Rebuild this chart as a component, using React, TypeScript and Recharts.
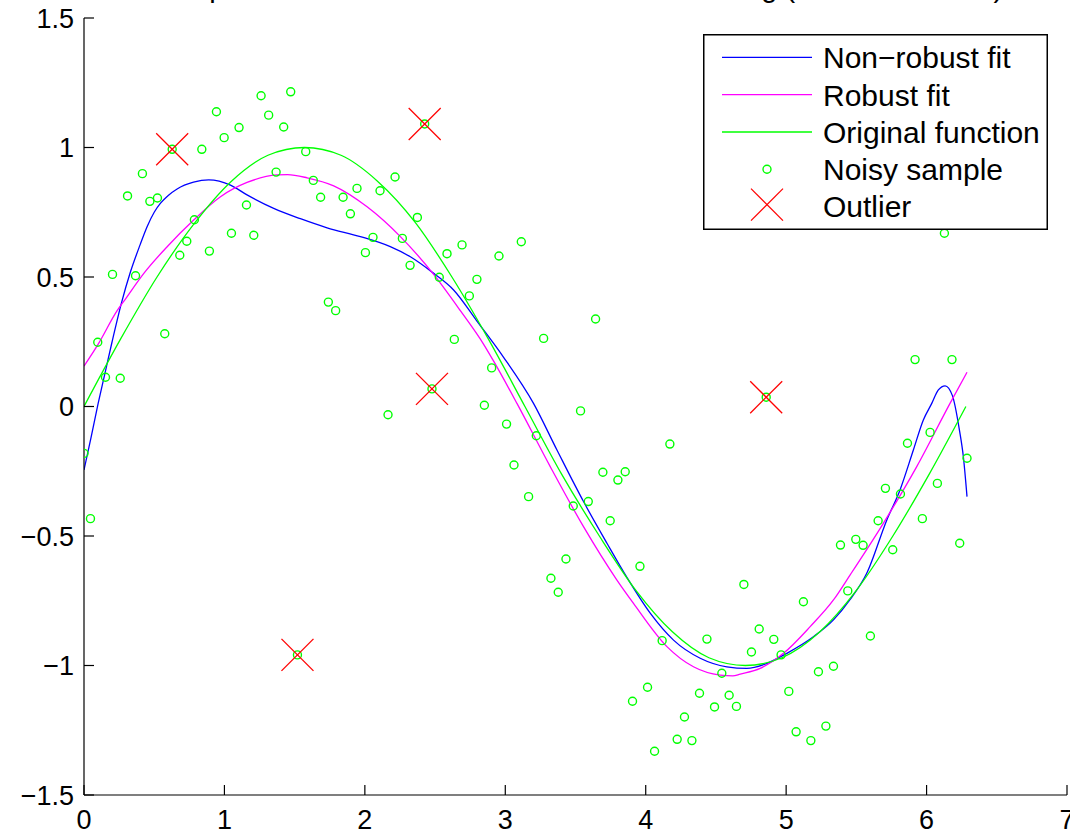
import React from 'react';
import {
  ComposedChart,
  Line,
  Scatter,
  XAxis,
  YAxis,
  Legend
} from 'recharts';

// noisy samples (x, y)
const sampleX = [
  0.000, 0.046, 0.098, 0.153, 0.203, 0.258, 0.310, 0.367, 0.416, 0.469,
  0.523, 0.575, 0.628, 0.682, 0.732, 0.786, 0.839, 0.893, 0.943, 0.998,
  1.050, 1.104, 1.157, 1.209, 1.261, 1.315, 1.368, 1.422, 1.472, 1.520,
  1.579, 1.633, 1.685, 1.740, 1.792, 1.845, 1.897, 1.944, 2.004, 2.058,
  2.108, 2.165, 2.215, 2.267, 2.322, 2.374, 2.426, 2.478, 2.530, 2.585,
  2.637, 2.692, 2.744, 2.798, 2.851, 2.903, 2.955, 3.009, 3.062, 3.114,
  3.166, 3.221, 3.273, 3.325, 3.377, 3.432, 3.484, 3.536, 3.591, 3.643,
  3.695, 3.747, 3.802, 3.854, 3.906, 3.959, 4.013, 4.063, 4.117, 4.172,
  4.224, 4.276, 4.329, 4.383, 4.436, 4.490, 4.542, 4.594, 4.646, 4.699,
  4.753, 4.808, 4.858, 4.912, 4.964, 5.019, 5.071, 5.123, 5.176, 5.230,
  5.283, 5.337, 5.387, 5.439, 5.496, 5.548, 5.600, 5.655, 5.707, 5.759,
  5.814, 5.864, 5.918, 5.970, 6.025, 6.077, 6.127, 6.181, 6.236, 6.288
];
const sampleY = [
  -0.181, -0.433, 0.248, 0.113, 0.510, 0.109, 0.813, 0.505, 0.899, 0.792,
  0.805, 0.281, 0.993, 0.584, 0.638, 0.721, 0.993, 0.600, 1.138, 1.038,
  0.669, 1.077, 0.778, 0.661, 1.200, 1.125, 0.905, 1.079, 1.215, -0.959,
  0.984, 0.873, 0.808, 0.403, 0.370, 0.808, 0.744, 0.842, 0.594, 0.653,
  0.833, -0.032, 0.886, 0.649, 0.545, 0.730, 1.091, 0.068, 0.499, 0.590,
  0.259, 0.624, 0.427, 0.491, 0.005, 0.149, 0.581, -0.068, -0.226, 0.636,
  -0.348, -0.113, 0.263, -0.663, -0.717, -0.589, -0.384, -0.017, -0.367, 0.338,
  -0.254, -0.441, -0.284, -0.252, -1.138, -0.617, -1.084, -1.331, -0.904, -0.145,
  -1.285, -1.199, -1.290, -1.107, -0.898, -1.160, -1.030, -1.115, -1.158, -0.687,
  -0.948, -0.859, 0.036, -0.899, -0.959, -1.100, -1.256, -0.754, -1.290, -1.024,
  -1.234, -1.003, -0.535, -0.712, -0.513, -0.536, -0.886, -0.441, -0.316, -0.553,
  -0.338, -0.142, 0.181, -0.433, -0.100, -0.297, 0.669, 0.181, -0.528, -0.200
];

const outlierX = [0.628, 1.520, 2.426, 2.478, 4.858];
const outlierY = [0.993, -0.959, 1.091, 0.068, 0.036];

// non-robust fit (blue)
const nonRobustX = [
  0, 0.05, 0.1, 0.15, 0.2, 0.267, 0.331, 0.4, 0.45, 0.5, 0.545, 0.6, 0.663, 0.78, 0.888,
  1.043, 1.161, 1.351, 1.541, 1.731, 1.968, 2.181, 2.324, 2.49, 2.632, 2.798,
  2.988, 3.201, 3.368, 3.557, 3.724, 3.866, 4.032, 4.198, 4.388, 4.578, 4.72,
  4.863, 5.005, 5.194, 5.337, 5.456, 5.574, 5.717, 5.811, 5.906, 5.977, 6.037,
  6.084, 6.132, 6.184, 6.234, 6.262, 6.288
];
const nonRobustY = [
  -0.245, -0.12, 0.01, 0.13, 0.25, 0.4, 0.52, 0.625, 0.695, 0.75, 0.785, 0.815, 0.84, 0.866, 0.875,
  0.855, 0.817, 0.765, 0.725, 0.69, 0.656, 0.617, 0.578, 0.514, 0.45, 0.33,
  0.19, 0.012, -0.168, -0.367, -0.528, -0.66, -0.798, -0.902, -0.972, -1.005, -1.011,
  -0.992, -0.953, -0.889, -0.824, -0.745, -0.644, -0.438, -0.322, -0.168, -0.052, 0.012,
  0.064, 0.08, 0.042, -0.091, -0.194, -0.348
];

// robust fit (magenta)
const robustX = [
  0, 0.1, 0.236, 0.295, 0.426, 0.592, 0.781, 0.972, 1.161, 1.375, 1.45, 1.589,
  1.778, 2.016, 2.253, 2.49, 2.68, 2.846, 2.917, 3.083, 3.32, 3.557, 3.795, 3.913,
  4.151, 4.34, 4.53, 4.62, 4.673, 4.815, 4.981, 5.171, 5.337, 5.456, 5.692, 5.93,
  6.167, 6.288
];
const robustY = [
  0.156, 0.24, 0.37, 0.415, 0.514, 0.617, 0.72, 0.81, 0.865, 0.894, 0.895, 0.883,
  0.852, 0.771, 0.656, 0.51, 0.37, 0.24, 0.175, 0.012, -0.232, -0.464, -0.67, -0.76,
  -0.927, -1.005, -1.037, -1.04, -1.033, -1.011, -0.953, -0.85, -0.747, -0.65, -0.451, -0.232,
  0.012, 0.132
];

// original function (green)
const originalX = [
  0, 0.26, 0.52, 0.79, 1.05, 1.31, 1.57, 1.83, 2.09, 2.36, 2.62, 2.88, 3.14,
  3.4, 3.67, 3.93, 4.19, 4.45, 4.71, 4.97, 5.24, 5.5, 5.76, 6.02, 6.28
];
const originalY = [
  0, 0.26, 0.5, 0.71, 0.87, 0.97, 1.0, 0.97, 0.87, 0.71, 0.5, 0.26, 0,
  -0.26, -0.5, -0.71, -0.87, -0.97, -1.0, -0.97, -0.87, -0.71, -0.5, -0.26, 0
];

const xTicks = [0, 1, 2, 3, 4, 5, 6, 7];
const yTicks = [-1.5, -1, -0.5, 0, 0.5, 1, 1.5];

const legendItems = ['Non\u2212robust fit', 'Robust fit', 'Original function', 'Noisy sample', 'Outlier'];
const title = 'Comparison of non\u2212robust and robust smoothing (outliers marked)';

const BLUE = '#0000ff';
const MAGENTA = '#ff00ff';
const GREEN = '#00ff00';
const RED = '#ff0000';
const FONT = '"Liberation Sans", Arial, Helvetica, sans-serif';

const zip = (xs: number[], ys: number[]) => xs.map((x, i) => ({ x, y: ys[i] }));

const samples = zip(sampleX, sampleY);
const outliers = zip(outlierX, outlierY);
const nonRobust = zip(nonRobustX, nonRobustY);
const robust = zip(robustX, robustY);
const original = zip(originalX, originalY);

const fmt = (v: number) => (v < 0 ? '\u2212' + Math.abs(v) : String(v));

const YTick = (props: any) => {
  const { x, y, payload } = props;
  return (
    <g>
      <line x1={x} y1={y} x2={x + 10} y2={y} stroke="#000" strokeWidth={1.2} />
      <text x={x - 10} y={y} dy="0.36em" textAnchor="end" fontSize={27} fontFamily={FONT} fill="#000">
        {fmt(payload.value)}
      </text>
    </g>
  );
};

const XTick = (props: any) => {
  const { x, y, payload } = props;
  return (
    <g>
      <line x1={x} y1={y} x2={x} y2={y - 10} stroke="#000" strokeWidth={1.2} />
      <text x={x} y={y + 34} textAnchor="middle" fontSize={27} fontFamily={FONT} fill="#000">
        {fmt(payload.value)}
      </text>
    </g>
  );
};

const Ring = (props: any) => (
  <circle cx={props.cx} cy={props.cy} r={4} fill="none" stroke={GREEN} strokeWidth={1.4} />
);

const Cross = (props: any) => {
  const { cx, cy } = props;
  const s = 16;
  return (
    <g stroke={RED} strokeWidth={1.3}>
      <line x1={cx - s} y1={cy - s} x2={cx + s} y2={cy + s} />
      <line x1={cx - s} y1={cy + s} x2={cx + s} y2={cy - s} />
    </g>
  );
};

const LegendBox = () => {
  const rows = [23.3, 60.7, 98, 135.3, 172.6];
  const lineColors = [BLUE, MAGENTA, GREEN];
  return (
    <svg width={345} height={196} style={{ display: 'block' }}>
      <rect x={0.75} y={0.75} width={343.5} height={194.5} fill="#fff" stroke="#000" strokeWidth={1.5} />
      {lineColors.map((c, i) => (
        <line key={c} x1={19} y1={rows[i]} x2={109} y2={rows[i]} stroke={c} strokeWidth={1.3} />
      ))}
      <circle cx={64} cy={rows[3]} r={4} fill="none" stroke={GREEN} strokeWidth={1.4} />
      <g stroke={RED} strokeWidth={1.3}>
        <line x1={48} y1={rows[4] - 18} x2={80} y2={rows[4] + 14} />
        <line x1={48} y1={rows[4] + 14} x2={80} y2={rows[4] - 18} />
      </g>
      {legendItems.map((t, i) => (
        <text key={t} x={120} y={rows[i]} dy="0.36em" fontSize={30} fontFamily={FONT} fill="#000">
          {t}
        </text>
      ))}
    </svg>
  );
};

export default function App() {
  return (
    <div style={{ position: 'absolute', left: 0, top: 0, width: 1070, height: 834, background: '#fff', overflow: 'hidden' }}>
      <div
        style={{
          position: 'absolute',
          left: 84,
          top: -27.5,
          width: 983,
          textAlign: 'center',
          fontFamily: FONT,
          fontSize: 29,
          lineHeight: '29px',
          whiteSpace: 'nowrap'
        }}
      >
        {title}
      </div>
      <ComposedChart width={1070} height={834} margin={{ top: 18, right: 3, bottom: 0, left: 0 }}>
        <XAxis
          dataKey="x"
          type="number"
          domain={[0, 7]}
          ticks={xTicks}
          interval={0}
          height={39}
          tickSize={0}
          tickMargin={0}
          tickLine={false}
          axisLine={{ stroke: '#000', strokeWidth: 1.2 }}
          tick={XTick}
          allowDataOverflow
        />
        <YAxis
          dataKey="y"
          type="number"
          domain={[-1.5, 1.5]}
          ticks={yTicks}
          interval={0}
          width={84}
          tickSize={0}
          tickMargin={0}
          tickLine={false}
          axisLine={{ stroke: '#000', strokeWidth: 1.2 }}
          tick={YTick}
          allowDataOverflow
        />
        <Legend
          layout="vertical"
          align="center"
          verticalAlign="middle"
          content={LegendBox}
          wrapperStyle={{ position: 'absolute', left: 703, top: 34, width: 345, height: 196 }}
        />
        <Line data={nonRobust} dataKey="y" type="monotone" stroke={BLUE} strokeWidth={1.3} dot={false} isAnimationActive={false} />
        <Line data={robust} dataKey="y" type="monotone" stroke={MAGENTA} strokeWidth={1.3} dot={false} isAnimationActive={false} />
        <Line data={original} dataKey="y" type="monotone" stroke={GREEN} strokeWidth={1.3} dot={false} isAnimationActive={false} />
        <Scatter data={samples} dataKey="y" shape={Ring} isAnimationActive={false} />
        <Scatter data={outliers} dataKey="y" shape={Cross} isAnimationActive={false} />
      </ComposedChart>
    </div>
  );
}
